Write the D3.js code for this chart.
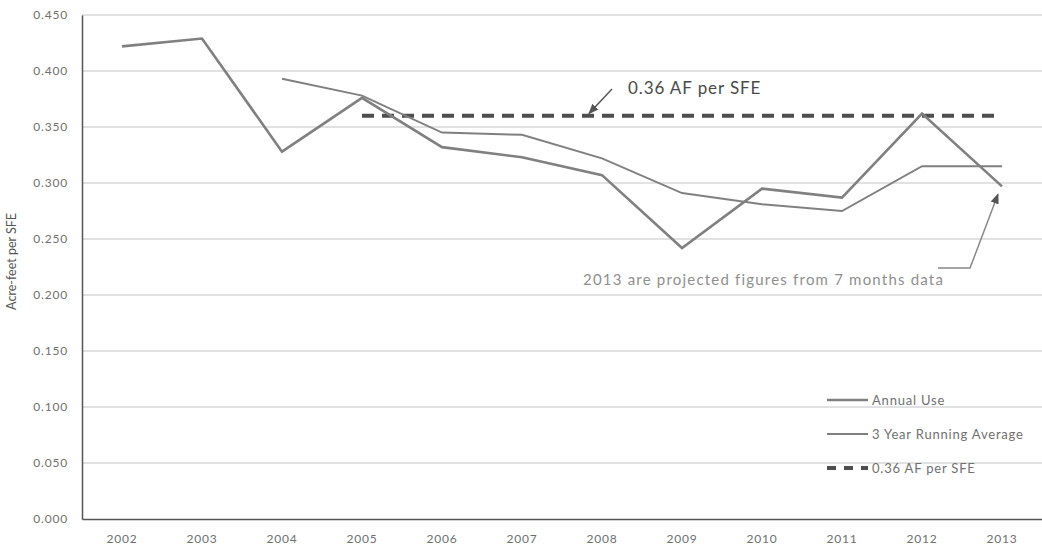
<!DOCTYPE html>
<html>
<head>
<meta charset="utf-8">
<script src="https://cdn.jsdelivr.net/npm/d3@7"></script>
<style>
  body { margin: 0; background: #fff; }
  text { font-family: Lato, "Open Sans", sans-serif; }
</style>
</head>
<body>
<div class="canvas"></div>
<script>
const WIDTH = 1042;
const HEIGHT = 546;
const margin = { top: 15, right: 0, bottom: 27, left: 82 };
const graphWidth = WIDTH - margin.left - margin.right;
const graphHeight = HEIGHT - margin.top - margin.bottom;

// data
const years = ['2002', '2003', '2004', '2005', '2006', '2007', '2008', '2009', '2010', '2011', '2012', '2013'];
const annualUse = [0.422, 0.429, 0.328, 0.376, 0.332, 0.323, 0.307, 0.242, 0.295, 0.287, 0.362, 0.297];
const runningAvgYears = ['2004', '2005', '2006', '2007', '2008', '2009', '2010', '2011', '2012', '2013'];
const runningAvg = [0.393, 0.378, 0.345, 0.343, 0.322, 0.291, 0.281, 0.275, 0.315, 0.315];
const targetYears = ['2005', '2013'];
const targetValue = 0.36;
const yTicks = [0, 0.05, 0.1, 0.15, 0.2, 0.25, 0.3, 0.35, 0.4, 0.45];

// colors
const lineGray = '#808080';
const gridGray = '#c4c4c4';
const axisGray = '#555';
const textGray = '#707070';

const svg = d3.select('.canvas')
  .append('svg')
    .attr('width', WIDTH)
    .attr('height', HEIGHT);

const graph = svg.append('g')
  .attr('transform', `translate(${margin.left}, ${margin.top})`);

// scales
const x = d3.scaleBand()
  .domain(years)
  .range([0, graphWidth]);

const cx = d => x(d) + x.bandwidth() / 2;

const y = d3.scaleLinear()
  .domain([0, 0.45])
  .range([graphHeight, 0]);

// gridlines
graph.append('g')
  .selectAll('line')
  .data(yTicks.filter(d => d > 0))
  .enter().append('line')
    .attr('x1', 0)
    .attr('x2', graphWidth)
    .attr('y1', d => y(d))
    .attr('y2', d => y(d))
    .attr('stroke', gridGray)
    .attr('stroke-width', 1);

// axes
const yAxis = d3.axisLeft(y)
  .tickValues(yTicks)
  .tickSize(0)
  .tickPadding(14)
  .tickFormat(d3.format('.3f'));

const xAxis = d3.axisBottom(x)
  .tickSize(0)
  .tickPadding(15);

const yAxisGroup = graph.append('g').call(yAxis);
const xAxisGroup = graph.append('g')
  .attr('transform', `translate(0, ${graphHeight})`)
  .call(xAxis);

[yAxisGroup, xAxisGroup].forEach(g => {
  g.select('.domain').attr('stroke', axisGray).attr('stroke-width', 1.5);
  g.selectAll('text')
    .attr('fill', textGray)
    .style('font-size', '12px')
    .style('letter-spacing', '0.8px');
});

// axis title
svg.append('text')
  .attr('transform', `translate(16, ${margin.top + y(0.23)}) rotate(-90)`)
  .attr('text-anchor', 'middle')
  .attr('fill', '#555')
  .style('font-size', '12.5px')
  .text('Acre-feet per SFE');

// lines
const line = d3.line()
  .x(d => cx(d[0]))
  .y(d => y(d[1]));

graph.append('path')
  .datum(d3.zip(targetYears, [targetValue, targetValue]))
  .attr('fill', 'none')
  .attr('stroke', '#4e4e4e')
  .attr('stroke-width', 4)
  .attr('stroke-dasharray', '12 8')
  .attr('d', line);

graph.append('path')
  .datum(d3.zip(runningAvgYears, runningAvg))
  .attr('fill', 'none')
  .attr('stroke', lineGray)
  .attr('stroke-width', 2)
  .attr('d', line);

graph.append('path')
  .datum(d3.zip(years, annualUse))
  .attr('fill', 'none')
  .attr('stroke', lineGray)
  .attr('stroke-width', 2.6)
  .attr('d', line);

// annotations
svg.append('defs').append('marker')
  .attr('id', 'arrow')
  .attr('viewBox', '0 0 10 10')
  .attr('refX', 9)
  .attr('refY', 5)
  .attr('markerWidth', 7)
  .attr('markerHeight', 7)
  .attr('orient', 'auto')
  .append('path')
    .attr('d', 'M0,1 L10,5 L0,9 Z')
    .attr('fill', '#555');

graph.append('text')
  .attr('x', cx('2008') + 26)
  .attr('y', y(0.36) - 22)
  .attr('fill', '#4a4a4a')
  .style('font-size', '17px')
  .style('letter-spacing', '0.9px')
  .text('0.36 AF per SFE');

graph.append('line')
  .attr('x1', cx('2008') + 10)
  .attr('y1', y(0.384))
  .attr('x2', cx('2008') - 13)
  .attr('y2', y(0.362))
  .attr('stroke', '#555')
  .attr('stroke-width', 1.5)
  .attr('marker-end', 'url(#arrow)');

graph.append('text')
  .attr('x', cx('2008') - 19)
  .attr('y', y(0.209))
  .attr('fill', '#8f8f8f')
  .style('font-size', '15px')
  .style('letter-spacing', '1.2px')
  .text('2013 are projected figures from 7 months data');

graph.append('path')
  .attr('d', `M${cx('2012') + 16},${y(0.224)} L${cx('2013') - 32},${y(0.224)} L${cx('2013') - 4},${y(0.29)}`)
  .attr('fill', 'none')
  .attr('stroke', '#888')
  .attr('stroke-width', 1.5)
  .attr('marker-end', 'url(#arrow)');

// legend
const legendItems = [
  { label: 'Annual Use', width: 2.6, dash: null, color: lineGray },
  { label: '3 Year Running Average', width: 2, dash: null, color: lineGray },
  { label: '0.36 AF per SFE', width: 4, dash: '9 8', color: '#4e4e4e' }
];

const legend = svg.append('g')
  .attr('transform', 'translate(827, 400)');

const legendRows = legend.selectAll('g')
  .data(legendItems)
  .enter().append('g')
    .attr('transform', (d, i) => `translate(0, ${i * 34})`);

legendRows.append('line')
  .attr('x1', 0)
  .attr('x2', 41)
  .attr('stroke', d => d.color)
  .attr('stroke-width', d => d.width)
  .attr('stroke-dasharray', d => d.dash);

legendRows.append('text')
  .attr('x', 45)
  .attr('y', 4.5)
  .attr('fill', textGray)
  .style('font-size', '13px')
  .style('letter-spacing', '0.8px')
  .text(d => d.label);
</script>
</body>
</html>
